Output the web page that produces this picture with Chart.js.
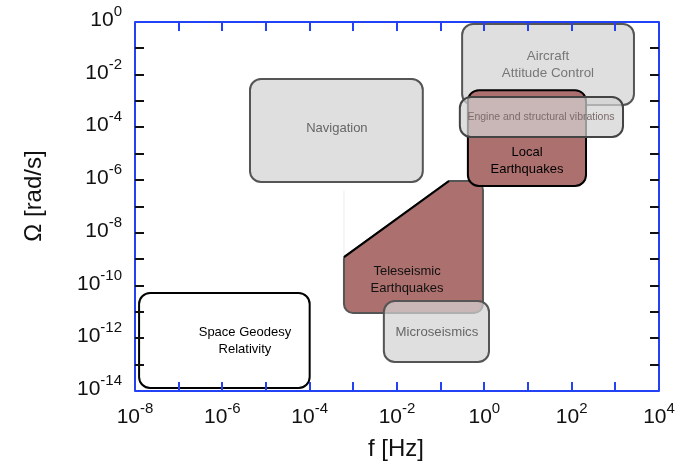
<!DOCTYPE html>
<html><head><meta charset="utf-8">
<script src="https://cdn.jsdelivr.net/npm/chart.js@4.4.1/dist/chart.umd.min.js"></script>
<style>html,body{margin:0;padding:0;background:#fff}canvas{display:block}</style>
</head><body>
<canvas id="c" width="681" height="463"></canvas>
<script>
// ---- data ----
const boxNames = ['Space Geodesy\nRelativity', 'Navigation', 'Microseismics', 'Aircraft\nAttitude Control', 'Local\nEarthquakes', 'Engine and structural vibrations'];
const boxFreqMin = [1.24e-8, 4.3e-6, 5.0e-3, 0.31, 0.42, 0.275];
const boxFreqMax = [1e-4, 3.9e-2, 1.28, 2670, 213, 1500];
const boxRateMin = [1.3e-14, 8.5e-7, 1.26e-13, 7.1e-4, 6.0e-7, 4.35e-5];
const boxRateMax = [5.2e-11, 6.9e-3, 2.6e-11, 0.84, 2.6e-3, 1.43e-3];
const boxLabelFreq = [3.3e-6, 4.2e-4, 0.082, 28.6, 9.5, 19.8];
const boxLabelRate = [7.9e-13, 9.5e-5, 1.74e-12, 2.3e-2, 5.3e-6, 2.5e-4];

const teleName = 'Teleseismic\nEarthquakes';
const teleFreq = [6.1e-4, 6.1e-4, 0.155, 0.93, 0.93];
const teleRate = [9.1e-12, 1.2e-9, 9.3e-7, 9.3e-7, 9.1e-12];
const teleLabelFreq = 0.017;
const teleLabelRate = 1.6e-10;

const xTickExps = [-8, -7, -6, -5, -4, -3, -2, -1, 0, 1, 2, 3, 4];
const xLabelExps = [-8, -6, -4, -2, 0, 2, 4];
const yTickExps = [0, -1, -2, -3, -4, -5, -6, -7, -8, -9, -10, -11, -12, -13, -14];
const yLabelExps = [0, -2, -4, -6, -8, -10, -12, -14];
const xTitle = 'f [Hz]';
const yTitle = 'Ω [rad/s]';

// ---- styles ----
const FONT = '"Liberation Sans", Arial, Helvetica, sans-serif';
const boxStyles = [
  {fill: '#ffffff', stroke: '#000000', lw: 2, text: '#000000', size: 13},
  {fill: 'rgba(210,210,210,0.72)', stroke: '#555555', lw: 2, text: '#666666', size: 13},
  {fill: 'rgba(210,210,210,0.72)', stroke: '#555555', lw: 2, text: '#666666', size: 13.2},
  {fill: 'rgba(210,210,210,0.72)', stroke: '#555555', lw: 2, text: '#777777', size: 13.4},
  {fill: 'rgb(172,112,110)', stroke: '#000000', lw: 2, text: '#000000', size: 13},
  {fill: 'rgba(210,210,210,0.72)', stroke: '#444444', lw: 2, text: '#7d6a6a', size: 10.5}
];
const AXIS_BLUE = '#2342f5';

function roundRect(ctx, x0, y0, x1, y1, r) {
  const l = Math.min(x0, x1), rr = Math.max(x0, x1), t = Math.min(y0, y1), b = Math.max(y0, y1);
  ctx.beginPath();
  ctx.moveTo(l + r, t);
  ctx.arcTo(rr, t, rr, b, r);
  ctx.arcTo(rr, b, l, b, r);
  ctx.arcTo(l, b, l, t, r);
  ctx.arcTo(l, t, rr, t, r);
  ctx.closePath();
}
function roundPoly(ctx, pts, radii) {
  const n = pts.length;
  ctx.beginPath();
  const mid = [(pts[0][0] + pts[n - 1][0]) / 2, (pts[0][1] + pts[n - 1][1]) / 2];
  ctx.moveTo(mid[0], mid[1]);
  for (let i = 0; i < n; i++) {
    const p = pts[i], q = pts[(i + 1) % n];
    ctx.arcTo(p[0], p[1], q[0], q[1], radii[i]);
  }
  ctx.closePath();
}
function multiText(ctx, text, x, y, size, color, lh) {
  const lines = text.split('\n');
  ctx.font = size + 'px ' + FONT;
  ctx.fillStyle = color;
  ctx.textAlign = 'center';
  ctx.textBaseline = 'middle';
  const y0 = y - (lines.length - 1) * lh / 2;
  lines.forEach((ln, i) => ctx.fillText(ln, x, y0 + i * lh));
}
function powLabel(ctx, exp, x, baseline, align) {
  const base = '10', sup = String(exp);
  ctx.textBaseline = 'alphabetic';
  ctx.textAlign = 'left';
  ctx.font = '21px ' + FONT;
  const wb = ctx.measureText(base).width;
  ctx.font = '15px ' + FONT;
  const ws = ctx.measureText(sup).width;
  const total = wb + ws;
  let sx = align === 'center' ? x - total / 2 : x - total;
  ctx.fillStyle = '#111';
  ctx.font = '21px ' + FONT;
  ctx.fillText(base, sx, baseline);
  ctx.font = '15px ' + FONT;
  ctx.fillText(sup, sx + wb, baseline - 10);
}

const regionsPlugin = {
  id: 'regions',
  afterDraw(chart) {
    const {ctx, chartArea: a, scales: {x, y}} = chart;
    const px = v => x.getPixelForValue(v), py = v => y.getPixelForValue(v);
    ctx.save();
    ctx.lineJoin = 'round';
    const drawBox = i => {
      const s = boxStyles[i];
      roundRect(ctx, px(boxFreqMin[i]), py(boxRateMax[i]), px(boxFreqMax[i]), py(boxRateMin[i]), 11);
      ctx.fillStyle = s.fill; ctx.fill();
      ctx.lineWidth = s.lw; ctx.strokeStyle = s.stroke; ctx.stroke();
    };
    const drawBoxText = i => {
      const s = boxStyles[i];
      multiText(ctx, boxNames[i], px(boxLabelFreq[i]), py(boxLabelRate[i]), s.size, s.text, 17);
    };
    drawBox(0); drawBoxText(0);
    drawBox(1); drawBoxText(1);
    ctx.beginPath();
    ctx.moveTo(px(teleFreq[0]), py(4e-7));
    ctx.lineTo(px(teleFreq[0]), py(teleRate[1]));
    ctx.lineWidth = 1; ctx.strokeStyle = '#ececec'; ctx.stroke();
    const pts = teleFreq.map((f, i) => [px(f), py(teleRate[i])]);
    roundPoly(ctx, pts, [9, 3, 2, 9, 9]);
    ctx.fillStyle = 'rgb(172,112,110)'; ctx.fill();
    ctx.lineWidth = 2; ctx.strokeStyle = '#555555'; ctx.stroke();
    ctx.beginPath();
    ctx.moveTo(pts[1][0], pts[1][1]); ctx.lineTo(pts[2][0], pts[2][1]);
    ctx.strokeStyle = '#000'; ctx.lineWidth = 2; ctx.stroke();
    multiText(ctx, teleName, px(teleLabelFreq), py(teleLabelRate), 13, '#111', 17);
    drawBox(2); drawBoxText(2);
    drawBox(3); drawBoxText(3);
    drawBox(4);
    drawBox(5);
    drawBoxText(4); drawBoxText(5);

    ctx.lineWidth = 2;
    ctx.strokeStyle = AXIS_BLUE;
    ctx.strokeRect(a.left, a.top, a.right - a.left, a.bottom - a.top);
    const TL = 9;
    xTickExps.forEach(e => {
      const xx = Math.round(px(Math.pow(10, e)));
      if (xx <= a.left + 1 || xx >= a.right - 1) return;
      ctx.beginPath();
      ctx.moveTo(xx, a.top); ctx.lineTo(xx, a.top + TL);
      ctx.moveTo(xx, a.bottom); ctx.lineTo(xx, a.bottom - TL);
      ctx.strokeStyle = AXIS_BLUE; ctx.lineWidth = 2; ctx.stroke();
    });
    yTickExps.forEach(e => {
      const yy = Math.round(py(Math.pow(10, e)));
      if (yy <= a.top + 1 || yy >= a.bottom - 1) return;
      ctx.beginPath();
      ctx.moveTo(a.left, yy); ctx.lineTo(a.left + TL, yy);
      ctx.moveTo(a.right, yy); ctx.lineTo(a.right - TL, yy);
      ctx.strokeStyle = '#111'; ctx.lineWidth = 2; ctx.stroke();
    });
    xLabelExps.forEach(e => powLabel(ctx, e, px(Math.pow(10, e)), a.bottom + 32, 'center'));
    yLabelExps.forEach(e => powLabel(ctx, e, a.left - 13, py(Math.pow(10, e)) + 4, 'right'));
    ctx.fillStyle = '#111';
    ctx.font = '24px ' + FONT;
    ctx.textAlign = 'center';
    ctx.textBaseline = 'alphabetic';
    ctx.fillText(xTitle, (a.left + a.right) / 2 - 1, 456);
    ctx.save();
    ctx.translate(41, 196);
    ctx.rotate(-Math.PI / 2);
    ctx.fillText(yTitle, 0, 0);
    ctx.restore();
    ctx.restore();
  }
};

new Chart(document.getElementById('c'), {
  type: 'scatter',
  data: {datasets: [{data: [], pointRadius: 0}]},
  options: {
    responsive: false,
    animation: false,
    events: [],
    layout: {padding: {left: 135, top: 22, right: 22, bottom: 72}},
    plugins: {legend: {display: false}, tooltip: {enabled: false}},
    scales: {
      x: {type: 'logarithmic', min: 1e-8, max: 1e4, display: false},
      y: {type: 'logarithmic', min: 1e-14, max: 1, display: false}
    }
  },
  plugins: [regionsPlugin]
});
</script>
</body></html>
